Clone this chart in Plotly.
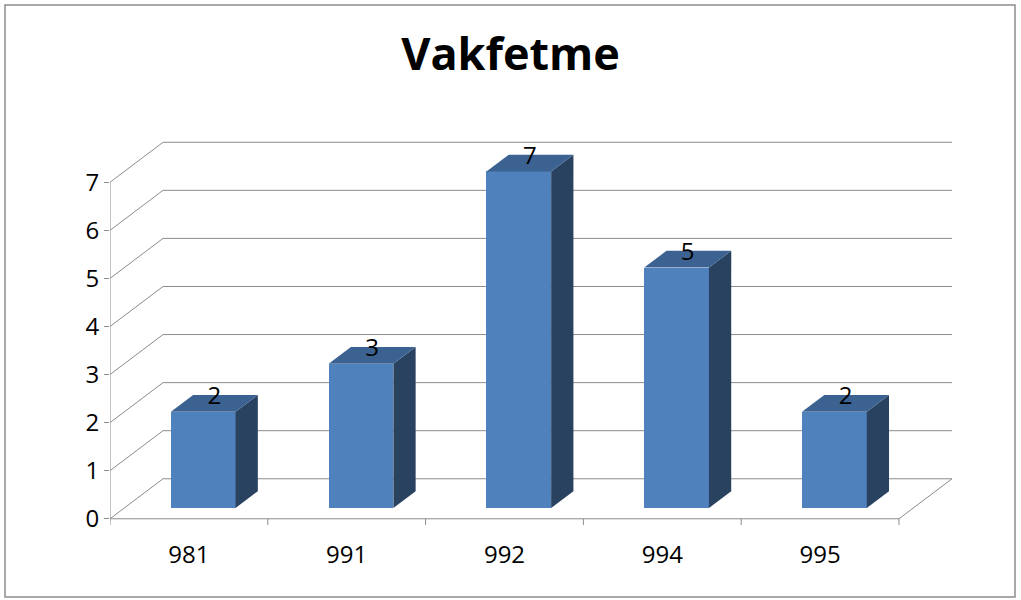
import plotly.graph_objects as go

categories = ["981", "991", "992", "994", "995"]
values = [2, 3, 7, 5, 2]
y_ticks = [0, 1, 2, 3, 4, 5, 6, 7]

FRONT = "#4F81BD"
TOP = "#3C6292"
SIDE = "#29425F"
GRID = "#8C8C8C"
FONT = "Open Sans"

# fake 3d: depth of the box and where the bars sit inside it
DX, DY = 0.336, 0.832
F0, FB = 0.27, 0.42
BAR_W = 0.41
n = len(categories)

fig = go.Figure()

shapes = []
for v in y_ticks:
    shapes.append(dict(type="line", x0=DX, y0=v + DY, x1=n + DX, y1=v + DY))
    shapes.append(dict(type="line", x0=0, y0=v, x1=DX, y1=v + DY))
shapes.append(dict(type="line", x0=0, y0=0, x1=n, y1=0))
shapes.append(dict(type="line", x0=n, y0=0, x1=n + DX, y1=DY))
shapes.append(dict(type="line", x0=0, y0=0, x1=0, y1=max(y_ticks)))
for i in range(n + 1):
    shapes.append(dict(type="line", x0=i, y0=0, x1=i, y1=-0.13))
for s in shapes:
    s.update(xref="x", yref="y", layer="below", line=dict(color=GRID, width=1))

xc = [i + 0.5 + F0 * DX for i in range(n)]
base = F0 * DY
fig.add_trace(go.Bar(
    x=xc, y=values, base=base, width=BAR_W,
    marker=dict(color=FRONT, line=dict(width=0)), hoverinfo="skip",
))

bx, by = FB * DX, FB * DY
for x, v in zip(xc, values):
    l, r = x - BAR_W / 2, x + BAR_W / 2
    t = v + base
    fig.add_trace(go.Scatter(
        x=[r, r + bx, r + bx, r, r], y=[base, base + by, t + by, t, base],
        fill="toself", fillcolor=SIDE, mode="lines", line=dict(width=0),
        hoverinfo="skip",
    ))
    fig.add_trace(go.Scatter(
        x=[l, r, r + bx, l + bx, l], y=[t, t, t + by, t + by, t],
        fill="toself", fillcolor=TOP, mode="lines", line=dict(width=0),
        hoverinfo="skip",
    ))

fig.add_trace(go.Scatter(
    x=[x + bx / 2 for x in xc], y=[v + base + 0.28 for v in values],
    text=[str(v) for v in values], mode="text", textposition="middle center",
    textfont=dict(family=FONT, size=24, color="black"), hoverinfo="skip",
))

L, R, T, B = 110, 69, 139, 62
W, H = 1021, 600
pw, ph = W - L - R, H - T - B
shapes.append(dict(
    type="rect", xref="paper", yref="paper",
    x0=(5 - L) / pw, x1=(1015 - L) / pw,
    y0=(H - B - 597) / ph, y1=(H - B - 5) / ph,
    line=dict(color=GRID, width=1.5), layer="below",
))

fig.update_layout(
    width=W, height=H,
    margin=dict(l=L, r=R, t=T, b=B),
    paper_bgcolor="white", plot_bgcolor="white",
    showlegend=False,
    title=dict(text="<b>Vakfetme</b>", x=0.5, xref="container", xanchor="center",
               y=1 - 54 / H, yref="container", yanchor="middle",
               font=dict(family=FONT, size=45, color="black")),
    shapes=shapes,
    xaxis=dict(range=[0, n + DX], tickvals=[i + 0.5 for i in range(n)], ticktext=categories,
               showgrid=False, zeroline=False, showline=False, ticks="",
               tickfont=dict(family=FONT, size=24, color="black"), fixedrange=True),
    yaxis=dict(range=[-0.4, 7.9], tickvals=y_ticks, showgrid=False, zeroline=False,
               showline=False, ticks="outside", ticklen=5, tickcolor=GRID,
               tickfont=dict(family=FONT, size=24, color="black"), fixedrange=True),
    bargap=0,
)

fig.write_html("out.html", config={"displayModeBar": False},
               post_script="document.body.style.margin='0px';")
